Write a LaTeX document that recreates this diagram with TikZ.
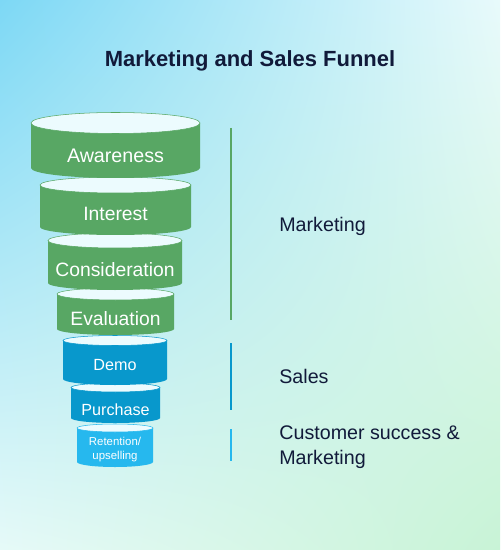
\documentclass[tikz,border=0pt]{standalone}
\usepackage{fontspec}
\setmainfont{Liberation Sans}
\usetikzlibrary{shadings}
\definecolor{bgtl}{HTML}{7DD8F5}
\definecolor{bgtr}{HTML}{E8FAFB}
\definecolor{bgbl}{HTML}{E6FAF8}
\definecolor{bgbr}{HTML}{C8F3D6}
\definecolor{ink}{HTML}{111A3A}
\definecolor{stagegreen}{HTML}{58A764}
\definecolor{stageblue}{HTML}{0898CC}
\definecolor{stagesky}{HTML}{26B8EE}
\definecolor{topface}{HTML}{ECFBFE}
\tikzset{
	titletext/.style = {font=\fontsize{12.5}{15}\selectfont\bfseries, text=ink, inner sep=0pt},
	stagetext/.style = {font=\fontsize{11}{13}\selectfont, text=white, inner sep=0pt},
	sidetext/.style = {font=\fontsize{11.2}{14.2}\selectfont, text=ink, inner sep=0pt},
	bar/.style = {line width=1.1pt},
	lid/.style = {fill=topface, line width=0.3pt}
}

\begin{document}
\begin{tikzpicture}[x=0.02cm, y=-0.02cm]
	\shade[upper left=bgtl, upper right=bgtr, lower left=bgbl, lower right=bgbr] (0,0) rectangle (500,550);
	\node[titletext, anchor = base] (title) at (250,67) {Marketing and Sales Funnel};

	% funnel, drawn from the bottom up
	\fill[stagesky] (77,428) -- (77,462) arc[start angle=180, end angle=0, x radius=38, y radius=5] -- (153,428) -- cycle;
	\filldraw[lid, draw=stagesky] (115,428) ellipse[x radius=38, y radius=4];
	\node[stagetext, font=\fontsize{6.5}{7.9}\selectfont, align=center, anchor = base] (retention) at (115,459.3) {Retention/\\upselling};

	\fill[stageblue] (71,387.5) -- (71,418) arc[start angle=180, end angle=0, x radius=44.5, y radius=5] -- (160,387.5) -- cycle;
	\filldraw[lid, draw=stageblue] (115.5,387.5) ellipse[x radius=44.5, y radius=4.5];
	\node[stagetext, font=\fontsize{9.2}{11}\selectfont, anchor = base] (purchase) at (115.5,415) {Purchase};

	\fill[stageblue] (63,340.5) -- (63,379) arc[start angle=180, end angle=0, x radius=52, y radius=6] -- (167,340.5) -- cycle;
	\filldraw[lid, draw=stageblue] (115,340.5) ellipse[x radius=52, y radius=5];
	\node[stagetext, font=\fontsize{9.2}{11}\selectfont, anchor = base] (demo) at (115,370.7) {Demo};

	\fill[stagegreen] (57,294) -- (57,329) arc[start angle=180, end angle=0, x radius=58.5, y radius=6] -- (174,294) -- cycle;
	\filldraw[lid, draw=stagegreen] (115.5,294) ellipse[x radius=58.5, y radius=6];
	\node[stagetext, anchor = base] (evaluation) at (115.5,325.7) {Evaluation};

	\fill[stagegreen] (48,240.5) -- (48,283) arc[start angle=180, end angle=0, x radius=67, y radius=7] -- (182,240.5) -- cycle;
	\filldraw[lid, draw=stagegreen] (115,240.5) ellipse[x radius=67, y radius=7.5];
	\node[stagetext, anchor = base] (consideration) at (115,276.7) {Consideration};

	\fill[stagegreen] (40,185) -- (40,227) arc[start angle=180, end angle=0, x radius=75.5, y radius=8] -- (191,185) -- cycle;
	\filldraw[lid, draw=stagegreen] (115.5,185) ellipse[x radius=75.5, y radius=8];
	\node[stagetext, anchor = base] (interest) at (115.5,220.7) {Interest};

	\fill[stagegreen] (31,123) -- (31,168) arc[start angle=180, end angle=0, x radius=84.5, y radius=10] -- (200,123) -- cycle;
	\filldraw[lid, draw=stagegreen] (115.5,123) ellipse[x radius=84.5, y radius=10.5];
	\node[stagetext, font=\fontsize{11.2}{13}\selectfont, anchor = base] (awareness) at (115.5,162.3) {Awareness};

	% teams
	\coordinate (mkt top) at (231,128);
	\coordinate (mkt bot) at (231,320);
	\coordinate (sales top) at (231,343);
	\coordinate (sales bot) at (231,410);
	\coordinate (cs top) at (231,429);
	\coordinate (cs bot) at (231,461);
	\draw[bar, stagegreen] (mkt top) -- (mkt bot);
	\draw[bar, stageblue] (sales top) -- (sales bot);
	\draw[bar, stagesky] (cs top) -- (cs bot);
	\node[sidetext, anchor = base west] (marketing) at (279,231.7) {Marketing};
	\node[sidetext, anchor = base west] (sales) at (279,383) {Sales};
	\node[sidetext, align=left, anchor = base west] (success) at (279,464) {Customer success \&\\Marketing};
\end{tikzpicture}
\end{document}
